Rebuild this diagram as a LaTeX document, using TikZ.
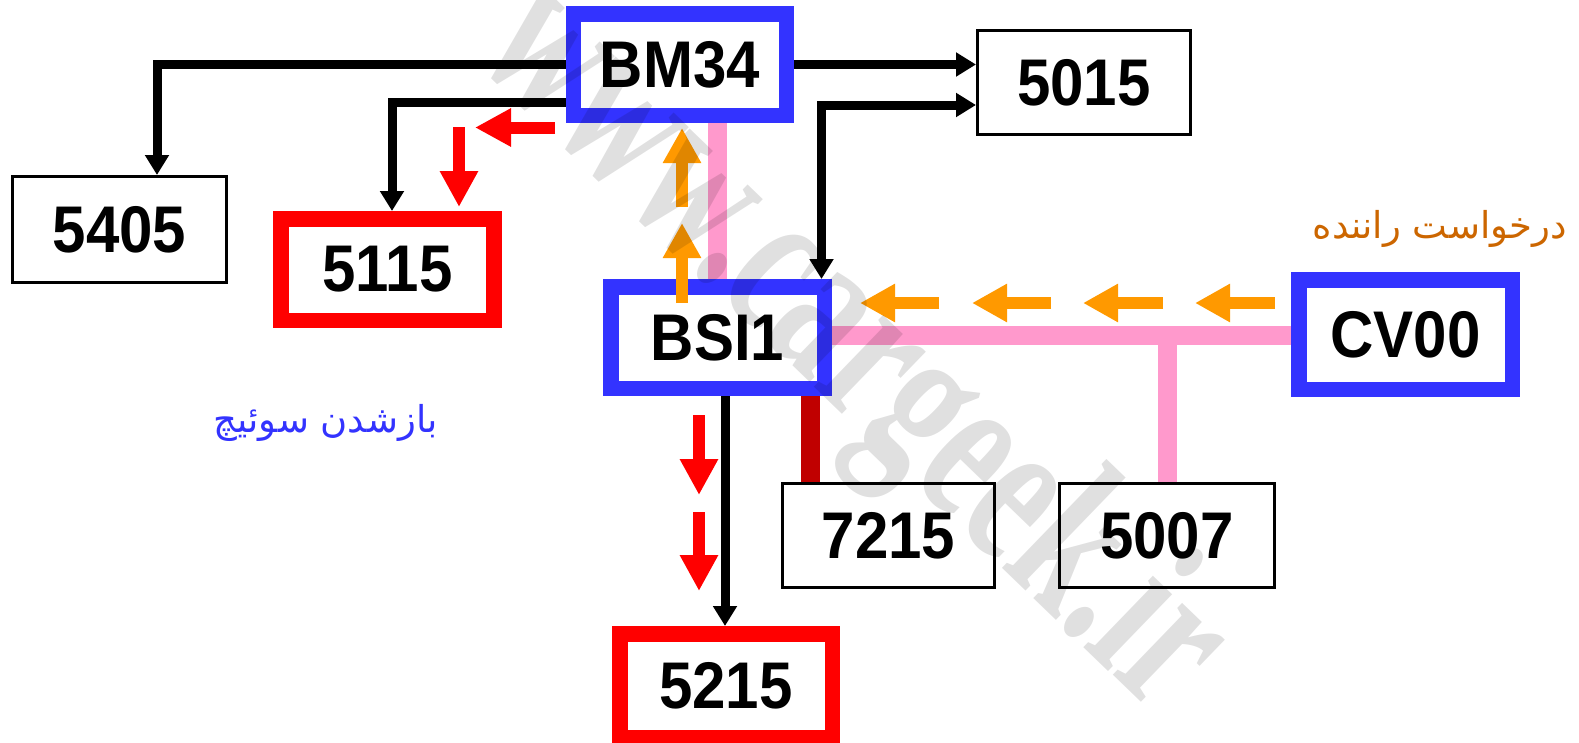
\documentclass[tikz,border=0pt]{standalone}
\usepackage{fontspec}
\usepackage{graphicx}
\setmainfont{Liberation Sans}
\newfontfamily\arabicfont[Script=Arabic]{DejaVu Sans}
\newfontfamily\wmfont{Liberation Serif}
\TeXXeTstate=1
\usetikzlibrary{arrows.meta}
\definecolor{cblue}{RGB}{51,51,255}
\definecolor{cred}{RGB}{255,0,0}
\definecolor{cpink}{RGB}{255,153,204}
\definecolor{cdred}{RGB}{192,0,0}
\definecolor{corange}{RGB}{255,153,0}
\definecolor{ctext}{RGB}{204,102,0}
\newcommand\bx[1]{\scalebox{1}[1.1]{#1}}
\begin{document}
\begin{tikzpicture}[x=1pt,y=-1pt,
  ecu/.style={fill=white, inner sep=0pt, font=\fontsize{60}{60}\selectfont\bfseries},
  thinbox/.style={ecu, draw=black, line width=3pt, outer sep=1.5pt, minimum width=213pt, minimum height=104pt},
  bluebox/.style={ecu, draw=cblue, line width=15.5pt, outer sep=7.75pt, minimum width=213pt, minimum height=101.5pt},
  redbox/.style={ecu, draw=cred, line width=15.5pt, outer sep=7.75pt, minimum width=213pt, minimum height=101.5pt},
  wire/.style={draw=black, line width=9pt, line join=miter, -{Triangle[width=23pt,length=20pt]}},
  wire2/.style={draw=black, line width=9pt, line join=miter, {Triangle[width=23pt,length=20pt]}-{Triangle[width=23pt,length=20pt]}},
  pinkline/.style={draw=cpink, line width=19pt},
  redline/.style={draw=cdred, line width=19pt},
  oarrow/.style={draw=corange, line width=12pt, -{Triangle[width=36pt,length=35pt]}},
  rarrow/.style={draw=cred, line width=12pt, -{Triangle[width=36pt,length=36pt]}},
  label/.style={inner sep=0pt, anchor=base east, font=\arabicfont\fontsize{37}{37}\selectfont}
]
\useasboundingbox (0,0) rectangle (1579,742);
\clip (0,0) rectangle (1579,742);

% nodes
\node[bluebox] (bm) at (680,64.5) {\bx{BM34}};
\node[thinbox] (n5015) at (1084,82.5) {\bx{5015}};
\node[thinbox, minimum width=214pt, minimum height=106pt] (n5405) at (119.5,229.5) {\bx{5405}};
\node[redbox] (n5115) at (387.5,269.5) {\bx{5115}};
\node[bluebox, minimum width=213.5pt] (bsi) at (717.5,337.5) {\bx{BSI1}};
\node[bluebox, minimum width=213.5pt, minimum height=109.5pt] (cv) at (1405.5,334.5) {\bx{CV00}};
\node[thinbox, minimum width=212pt] (n7215) at (888.5,535.5) {\bx{7215}};
\node[thinbox, minimum width=215pt] (n5007) at (1167,535.5) {\bx{5007}};
\node[redbox, minimum width=212.5pt, minimum height=103.5pt] (n5215) at (726,685.5) {\bx{5215}};

% connectors
\draw[wire] (bm.west) -| ([xshift=37.5pt]n5405.north);
\draw[wire] ([yshift=-37.5pt]bm.west) -| ([xshift=4.5pt]n5115.north);
\draw[wire] (bm.east) -- (bm.east -| n5015.west);
\draw[wire2] ([yshift=-22.5pt]n5015.west) -| ([xshift=104pt]bsi.north);
\draw[pinkline] (bsi.north) -- (bsi.north |- bm.south);
\coordinate (bus) at (1167,335);
\draw[pinkline] (bsi.east |- bus) -- (cv.west |- bus);
\draw[pinkline] (bus) -- (n5007.north);
\draw[redline] ([xshift=92.5pt]bsi.south) -- ([xshift=92.5pt]bsi.south |- n7215.north);
\draw[wire] ([xshift=7.5pt]bsi.south) -- ([xshift=7.5pt]bsi.south |- n5215.north);

% signal arrows
\draw[oarrow] (682,207) -- (682,128);
\draw[oarrow] (682,303) -- (682,223);
\foreach \t/\h in {939/860, 1051/972, 1163/1083, 1275/1195}
  \draw[oarrow] (\t,303) -- (\h,303);
\draw[rarrow] (555,127.5) -- (475,127.5);
\draw[rarrow] (459,127) -- (459,207);
\draw[rarrow] (699,415) -- (699,495);
\draw[rarrow] (699,512) -- (699,591);

% labels
\node[label, text=ctext] (req) at (1567,238) {\beginR درخواست راننده\endR};
\node[label, text=cblue] (sw) at (438,432) {\beginR بازشدن سوئیچ\endR};

% watermark
\node[rotate=-44, text=black, text opacity=0.12, inner sep=0pt, font=\wmfont\bfseries\fontsize{150}{150}\selectfont] (wm) at (850,350) {\scalebox{0.95}[1.45]{www.cargeek.ir}};
\end{tikzpicture}
\end{document}
